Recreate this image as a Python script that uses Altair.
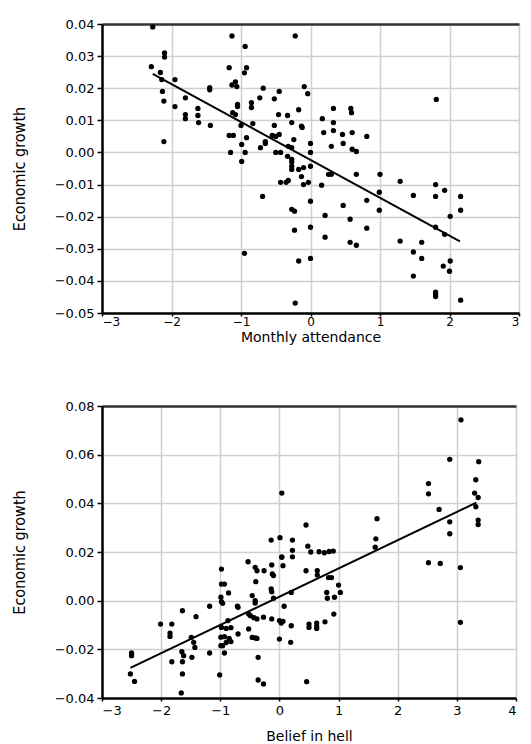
import altair as alt
import pandas as pd

# ---------- Panel 1: Monthly attendance ----------
top_x = [-2.27, -2.29, -2.16, -2.10, -2.10, -2.14, -2.13, -2.11, -2.11, -1.95, -1.95, -1.80, -1.80, -1.80,
         -1.62, -1.62, -1.61, -1.45, -1.45, -1.44,
         -1.13, -1.17, -1.08, -1.13, -1.06, -1.05, -1.05, -1.12, -1.08, -1.17, -1.11, -1.00, -0.94, -0.92,
         -0.95, -0.85, -0.85, -0.83, -0.92, -0.99, -1.15, -0.94, -0.99, -0.72, -0.68, -0.73, -0.65, -0.65,
         -0.52, -0.45, -0.46, -0.33, -0.52, -0.55, -0.50, -0.45, -0.50, -0.43, -0.27, -0.22, -0.17, -0.13,
         -0.12, -0.24, -0.32, -0.27, -0.09, -0.04, 0.00, 0.00, -0.33, -0.27, -0.27, -0.27, 0.00, 0.17, 0.19,
         0.30, 0.33, 0.33, 0.33, 0.46, 0.47, 0.58, 0.59, 0.60, 0.60, 0.66, 0.81, 1.81,
         -0.27, -0.17, -0.10, 0.26, 0.30, 0.66, 1.00, 1.29, -0.43, -0.35, -0.32, -0.13, -0.10, -0.03, 0.16,
         -0.69, -0.27, -0.23, 0.00, 0.21, 0.47, 0.57, 0.81, 0.99, 0.99, 1.48, 1.80, 1.93, 1.80, 2.16, 2.16,
         2.01, 1.80, 1.93, -0.23, 0.00, 0.21, 0.81, 0.57, 0.66, 1.29, 1.60, 1.48, 1.60, 2.01, 1.91, 2.00,
         1.48, 1.80, 1.80, 1.80, 2.16, -0.22, -0.17, 0.00, -0.95]
top_y = [0.0391, 0.0267, 0.0249, 0.0310, 0.0297, 0.0227, 0.0190, 0.0160, 0.0034, 0.0227, 0.0143, 0.0170,
         0.0118, 0.0105, 0.0137, 0.0115, 0.0093, 0.0202, 0.0195, 0.0084,
         0.0363, 0.0264, 0.0220, 0.0210, 0.0205, 0.0150, 0.0143, 0.0124, 0.0118, 0.0053, 0.0053, 0.0084,
         0.0330, 0.0264, 0.0248, 0.0155, 0.0140, 0.0090, 0.0046, 0.0025, 0.0000, 0.0000, -0.0028, 0.0015,
         0.0200, 0.0170, 0.0034, 0.0028, 0.0167, 0.0190, 0.0118, 0.0115, 0.0084, 0.0053, 0.0050, 0.0056,
         0.0000, 0.0000, 0.0093, 0.0363, 0.0133, 0.0082, 0.0078, 0.0040, 0.0019, 0.0015, 0.0205, 0.0183,
         0.0028, 0.0000, -0.0012, -0.0022, -0.0030, -0.0043, -0.0043, 0.0105, 0.0062, 0.0019, 0.0137,
         0.0093, 0.0068, 0.0056, 0.0028, 0.0137, 0.0124, 0.0062, 0.0010, 0.0003, 0.0050, 0.0165,
         -0.0053, -0.0053, -0.0047, -0.0068, -0.0068, -0.0068, -0.0068, -0.0090, -0.0093, -0.0093, -0.0087,
         -0.0075, -0.0100, -0.0093, -0.0102, -0.0137, -0.0177, -0.0183, -0.0152, -0.0196, -0.0165, -0.0208,
         -0.0149, -0.0124, -0.0180, -0.0134, -0.0100, -0.0118, -0.0137, -0.0137, -0.0180, -0.0199, -0.0233,
         -0.0255, -0.0242, -0.0233, -0.0264, -0.0236, -0.0280, -0.0289, -0.0276, -0.0280, -0.0310, -0.0330,
         -0.0338, -0.0354, -0.0370, -0.0385, -0.0435, -0.0442, -0.0449, -0.0460, -0.0469, -0.0338, -0.0330,
         -0.0314]
top_line_x = [-2.27, 2.15]
top_line_y = [0.0245, -0.0277]

# ---------- Panel 2: Belief in hell ----------
bot_x = [-2.50, -2.50, -2.52, -2.45, -2.01, -1.82, -1.85, -1.85, -1.64, -1.82, -1.65, -1.62, -1.64, -1.49,
         -1.45, -1.43, -1.48, -1.64, -1.66, -1.41, -1.18, -1.18,
         -0.98, -0.98, -0.93, -0.99, -0.98, -0.96, -0.86, -0.71, -0.70, -0.87, -0.98, -0.90, -0.82,
         -0.99, -0.93, -0.85, -0.82, -0.90, -0.96, -0.99, -0.93, -1.01, -0.70,
         -0.53, -0.41, -0.38, -0.26, -0.13, -0.12, -0.10, 0.04, 0.06, -0.40, -0.14, -0.13, -0.46, -0.41,
         -0.41, -0.10, 0.08, 0.20,
         -0.52, -0.49, -0.43, -0.38, -0.27, -0.13, 0.00, 0.03, 0.06, 0.20, -0.52, -0.46, -0.41, -0.38, 0.00,
         0.19, -0.36, -0.36, -0.27, 0.46, 0.50, 0.50, 0.45,
         -0.14, 0.01, 0.22, 0.04, 0.45, 0.48, 0.22, 0.53, 0.67, 0.76, 0.84, 0.91, 0.04, 0.22,
         1.65, 1.63, 1.62,
         0.64, 0.64, 0.83, 0.88, 1.00, 0.80, 1.03, 0.81, 0.93, 0.92, 0.63, 0.63, 0.63, 0.77,
         2.52, 2.72, 3.06, 3.06,
         3.07, 2.88, 3.37, 2.52, 2.52, 2.70, 3.32, 3.30, 3.36, 3.32, 3.36, 3.36, 2.88, 2.88]
bot_y = [-0.0215, -0.0226, -0.0301, -0.0332, -0.0096, -0.0096, -0.0133, -0.0147, -0.0041, -0.0251, -0.0210,
         -0.0226, -0.0251, -0.0151, -0.0171, -0.0192, -0.0233, -0.0301, -0.0379, -0.0066, -0.0023, -0.0215,
         0.0130, 0.0068, 0.0068, 0.0014, -0.0004, -0.0011, 0.0032, -0.0023, -0.0027, -0.0082, -0.0110,
         -0.0114, -0.0111, -0.0150, -0.0148, -0.0155, -0.0168, -0.0172, -0.0185, -0.0185, -0.0215, -0.0305,
         -0.0137,
         0.0160, 0.0137, 0.0123, 0.0123, 0.0147, 0.0110, 0.0103, 0.0178, 0.0144, 0.0078, 0.0048, 0.0037,
         0.0021, 0.0000, -0.0010, 0.0010, -0.0023, 0.0034,
         -0.0055, -0.0062, -0.0070, -0.0075, -0.0068, -0.0075, -0.0082, -0.0092, -0.0085, -0.0103, -0.0116,
         -0.0151, -0.0153, -0.0155, -0.0158, -0.0171, -0.0233, -0.0326, -0.0342, -0.0333, -0.0096, -0.0110,
         0.0123,
         0.0249, 0.0259, 0.0249, 0.0442, 0.0311, 0.0224, 0.0207, 0.0200, 0.0201, 0.0197, 0.0202, 0.0204,
         0.0180, 0.0180,
         0.0337, 0.0254, 0.0220,
         0.0123, 0.0105, 0.0095, 0.0095, 0.0064, 0.0034, 0.0034, 0.0010, 0.0014, -0.0055, -0.0092, -0.0106,
         -0.0114, -0.0087,
         0.0156, 0.0153, 0.0136, -0.0089,
         0.0743, 0.0581, 0.0571, 0.0481, 0.0439, 0.0375, 0.0497, 0.0442, 0.0424, 0.0386, 0.0331, 0.0313,
         0.0324, 0.0275]
bot_line_x = [-2.52, 3.33]
bot_line_y = [-0.0276, 0.0403]

y_title = "Economic growth"
top_x_title = "Monthly attendance"
bot_x_title = "Belief in hell"
top_xticks = [-3, -2, -1, 0, 1, 2, 3]
top_yticks = [-0.05, -0.04, -0.03, -0.02, -0.01, 0.0, 0.01, 0.02, 0.03, 0.04]
bot_xticks = [-3, -2, -1, 0, 1, 2, 3, 4]
bot_yticks = [-0.04, -0.02, 0.0, 0.02, 0.04, 0.06, 0.08]

LABEL_FONT = "DejaVu Sans"
TITLE_FONT = "Liberation Sans Narrow, DejaVu Sans Condensed, DejaVu Sans"


def panel(xs, ys, lx, ly, xticks, yticks, xtitle, w, h, x_label_pad, x_title_pad, x_label_size):
    pts = pd.DataFrame({"x": xs, "y": ys})
    ln = pd.DataFrame({"x": lx, "y": ly})
    xscale = alt.Scale(domain=[xticks[0], xticks[-1]], nice=False, zero=False)
    yscale = alt.Scale(domain=[yticks[0], yticks[-1]], nice=False, zero=False)
    xaxis = alt.Axis(values=xticks, format="d", title=xtitle, grid=True, gridColor="#cfcfcf",
                     gridWidth=1.5, domainColor="black", domainWidth=2.5, tickColor="black",
                     tickSize=3, tickWidth=1.5, labelFont=LABEL_FONT, labelFontSize=x_label_size,
                     labelColor="black", labelPadding=x_label_pad, labelOverlap=False,
                     titleFont=LABEL_FONT, titleFontSize=14,
                     titleFontWeight="normal", titleColor="black", titlePadding=x_title_pad)
    yaxis = alt.Axis(values=yticks, format=".2f", title=y_title, grid=True, gridColor="#cfcfcf",
                     gridWidth=1.5, domainColor="black", domainWidth=2.5, tickColor="black",
                     tickSize=5, tickWidth=1.5, labelFont=LABEL_FONT, labelFontSize=13,
                     labelColor="black", labelPadding=3, labelOverlap=False, labelFlush=False,
                     titleFont=TITLE_FONT, titleFontSize=16,
                     titleFontWeight="normal", titleColor="black", titlePadding=27)
    points = alt.Chart(pts).mark_circle(size=28, color="black", opacity=1).encode(
        x=alt.X("x:Q", scale=xscale, axis=xaxis),
        y=alt.Y("y:Q", scale=yscale, axis=yaxis),
    )
    line = alt.Chart(ln).mark_line(color="black", strokeWidth=2).encode(
        x=alt.X("x:Q", scale=xscale, axis=alt.Axis(orient="top", labels=False, ticks=False,
                                                    grid=False, title=None, domainColor="#333333",
                                                    domainWidth=2.5)),
        y=alt.Y("y:Q", scale=yscale, axis=yaxis),
    )
    return alt.layer(points, line).resolve_axis(x="independent").properties(width=w, height=h)


top = panel(top_x, top_y, top_line_x, top_line_y, top_xticks, top_yticks, top_x_title, 417, 289, 0, 3, 12)
bot = panel(bot_x, bot_y, bot_line_x, bot_line_y, bot_xticks, bot_yticks, bot_x_title, 414, 292, 3, 12, 13)

chart = alt.vconcat(top, bot, spacing=54).properties(
    padding={"left": 10, "top": 17, "right": 5, "bottom": 2}
).configure_view(stroke=None).configure(background="white")

chart.save("out.html", embed_options={"renderer": "svg", "actions": False})
